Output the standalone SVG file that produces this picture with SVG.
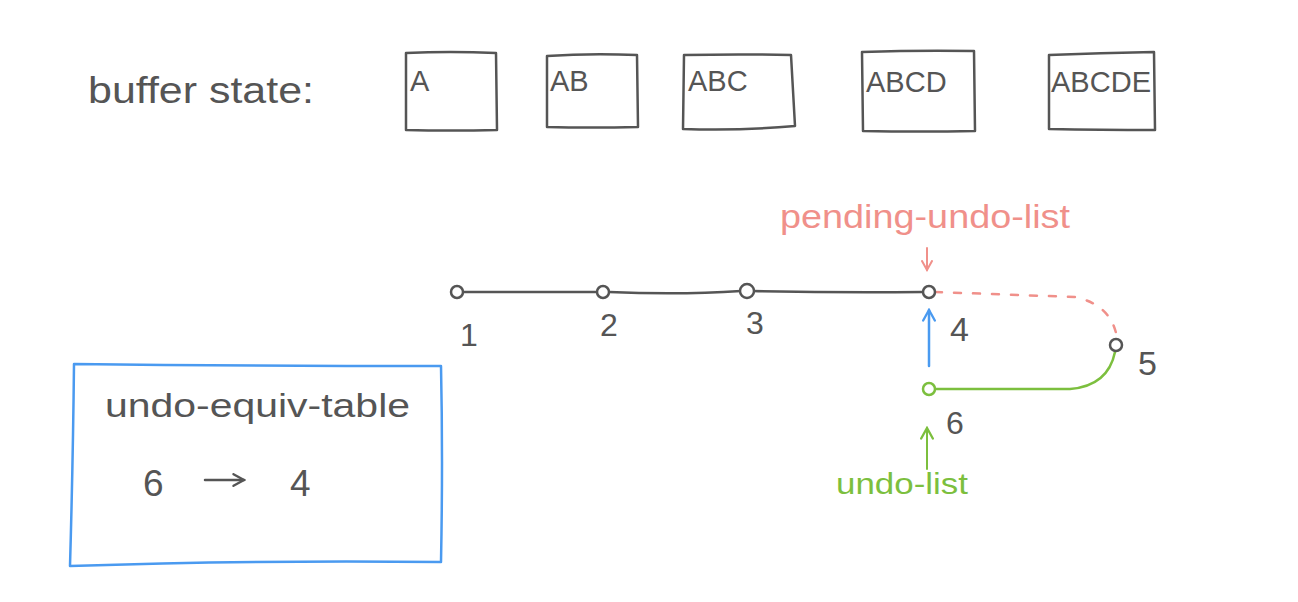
<svg xmlns="http://www.w3.org/2000/svg" width="1298" height="602" viewBox="0 0 1298 602">
<defs>
<style>
.t{font-family:"Liberation Sans",Arial,sans-serif;fill:#555}
.box{fill:none;stroke:#555;stroke-width:2.5;stroke-linejoin:round;stroke-linecap:round}
.node{fill:#fff;stroke:#555;stroke-width:2.5}
.g{fill:none;stroke:#555;stroke-width:2.5;stroke-linecap:round}
</style>
<marker id="ap" viewBox="0 0 12 12" refX="10" refY="6" markerWidth="12" markerHeight="12" markerUnits="userSpaceOnUse" orient="auto"><path d="M1,1 L10,6 L1,11" fill="none" stroke="#f0908a" stroke-width="2" stroke-linecap="round"/></marker>
<marker id="ab" viewBox="0 0 12 12" refX="10" refY="6" markerWidth="14" markerHeight="14" markerUnits="userSpaceOnUse" orient="auto"><path d="M1,1 L10,6 L1,11" fill="none" stroke="#4a9af0" stroke-width="2" stroke-linecap="round"/></marker>
<marker id="ag" viewBox="0 0 12 12" refX="10" refY="6" markerWidth="14" markerHeight="14" markerUnits="userSpaceOnUse" orient="auto"><path d="M1,1 L10,6 L1,11" fill="none" stroke="#7cbf3e" stroke-width="2" stroke-linecap="round"/></marker>
<marker id="ak" viewBox="0 0 12 12" refX="10" refY="6" markerWidth="14" markerHeight="14" markerUnits="userSpaceOnUse" orient="auto"><path d="M1,1 L10,6 L1,11" fill="none" stroke="#555" stroke-width="2" stroke-linecap="round"/></marker>
</defs>
<rect width="1298" height="602" fill="#fff"/>
<text class="t" x="88" y="103" font-size="36" textLength="226" lengthAdjust="spacingAndGlyphs">buffer state:</text>
<g id="buf-A"><path class="box" d="M406,53 Q450,51 496,53 L497,130 Q450,131 406,130 Z"/><text class="t" x="410" y="91" font-size="29">A</text></g>
<g id="buf-AB"><path class="box" d="M547,56 Q590,53 637,55 L638,127 Q590,128 547,127 Z"/><text class="t" x="550" y="91" font-size="29">AB</text></g>
<g id="buf-ABC"><path class="box" d="M684,55 Q740,54 791,55 L795,126 Q740,131 683,129 Z"/><text class="t" x="688" y="91" font-size="29">ABC</text></g>
<g id="buf-ABCD"><path class="box" d="M862,52 Q920,50 974,51 L975,131 Q920,132 863,131 Z"/><text class="t" x="866" y="92" font-size="29">ABCD</text></g>
<g id="buf-ABCDE"><path class="box" d="M1049,55 Q1100,53 1154,52 L1155,130 Q1100,130 1049,129 Z"/><text class="t" x="1051" y="92" font-size="29" textLength="100" lengthAdjust="spacingAndGlyphs">ABCDE</text></g>
<g id="connectors">
<path class="g" d="M463,292 L597,292 M609,292 Q680,295 741,291 M753,291 Q840,293 923,292"/>
<path d="M935,292 L1075,297 Q1112,305 1117,338" fill="none" stroke="#f0908a" stroke-width="2.5" stroke-dasharray="7,12" stroke-linecap="round"/>
<path d="M935,389 L1070,389 Q1108,386 1115,352" fill="none" stroke="#7cbf3e" stroke-width="2.5" stroke-linecap="round"/>
<path d="M929,366 L929,310" stroke="#4a9af0" stroke-width="2.5" fill="none" marker-end="url(#ab)" stroke-linecap="round"/>
<path d="M927,248 L927,270" stroke="#f0908a" stroke-width="2" fill="none" marker-end="url(#ap)" stroke-linecap="round"/>
<path d="M927,469 L927,428" stroke="#7cbf3e" stroke-width="2" fill="none" marker-end="url(#ag)" stroke-linecap="round"/>
</g>
<g id="n1"><circle class="node" cx="457" cy="292" r="6"/><text class="t" x="460" y="346" font-size="32">1</text></g>
<g id="n2"><circle class="node" cx="603" cy="292" r="6"/><text class="t" x="600" y="336" font-size="32">2</text></g>
<g id="n3"><circle class="node" cx="747" cy="291" r="7"/><text class="t" x="746" y="334" font-size="32">3</text></g>
<g id="n4"><circle class="node" cx="929" cy="292" r="6"/><text class="t" x="950" y="341" font-size="34">4</text></g>
<g id="n5"><circle class="node" cx="1116" cy="345" r="6"/><text class="t" x="1138" y="375" font-size="34">5</text></g>
<g id="n6"><circle cx="929" cy="389" r="6" fill="#fff" stroke="#7cbf3e" stroke-width="2.5"/><text class="t" x="946" y="434" font-size="32">6</text></g>
<g id="pending-undo-list"><text x="780" y="228" font-size="34" font-family="Liberation Sans,Arial,sans-serif" fill="#f0908a" textLength="290" lengthAdjust="spacingAndGlyphs">pending-undo-list</text></g>
<g id="undo-list"><text x="836" y="494" font-size="30" font-family="Liberation Sans,Arial,sans-serif" fill="#7cbf3e" textLength="132" lengthAdjust="spacingAndGlyphs">undo-list</text></g>
<g id="undo-equiv-table">
<path d="M74,364 Q250,366 441,366 Q443,460 441,562 Q250,560 70,566 Q73,460 74,364 Z" fill="none" stroke="#4a9af0" stroke-width="2.5" stroke-linejoin="round"/>
<text class="t" x="105" y="417" font-size="34" textLength="305" lengthAdjust="spacingAndGlyphs">undo-equiv-table</text>
<text class="t" x="143" y="496" font-size="37">6</text>
<path class="g" d="M205,480 L244,480" stroke-width="2" marker-end="url(#ak)"/>
<text class="t" x="290" y="496" font-size="37">4</text>
</g>
</svg>
